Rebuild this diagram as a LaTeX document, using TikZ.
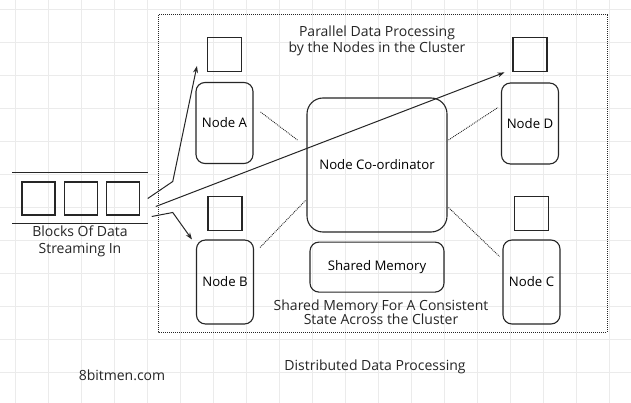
\documentclass[tikz,border=0pt]{standalone}
\usepackage{fontspec}
\setmainfont{Open Sans}
\usetikzlibrary{positioning,calc,arrows.meta}
\definecolor{pen}{HTML}{262626}
\definecolor{gridline}{HTML}{EBEBEB}

\tikzset{
    worker/.style={draw=pen, line width=1.1pt, rounded corners=9pt, minimum width=57pt, minimum height=81pt, font=\fontsize{13.2}{15}\selectfont},
    chunk/.style={draw=pen, line width=1.1pt, minimum width=34pt, minimum height=34pt, inner sep=0pt},
    label/.style={align=center, text=pen, font=\fontsize{14}{16}\selectfont},
    link/.style={densely dotted, pen, line width=0.9pt},
    flow/.style={pen, line width=1pt, -{Stealth[length=7pt,width=5pt]}}
}

\begin{document}
\begin{tikzpicture}[x=1pt, y=-1pt]

    \useasboundingbox (0,0) rectangle (631,403);
    \fill[white] (0,0) rectangle (631,403);

    %grid
    \foreach \x in {15,48,...,631}
        \draw [gridline] (\x,0) -- (\x,403);
    \foreach \y in {9,42,...,403}
        \draw [gridline] (0,\y) -- (631,\y);

    %cluster frame
    \draw [densely dotted, pen, line width=1pt] (158,15) rectangle (607,332);

    %nodes
    \node[worker] (nodeA) at (224.5,123) {Node A};
    \node[worker] (nodeD) at (530,123.5) {Node D};
    \node[worker, minimum height=84pt] (nodeB) at (225,282) {Node B};
    \node[worker, minimum height=84pt] (nodeC) at (531.5,282) {Node C};

    \node[chunk, above=10pt of nodeA] (sqA) {};
    \node[chunk, above=10pt of nodeD] (sqD) {};
    \node[chunk, above=8pt of nodeB] (sqB) {};
    \node[chunk, above=8pt of nodeC] (sqC) {};

    \node[worker, rounded corners=16pt, minimum width=140pt, minimum height=134pt] (coord) at (377,165) {Node Co-ordinator};
    \node[worker, rounded corners=9pt, minimum width=134pt, minimum height=50pt, below=9pt of coord] (shmem) {Shared Memory};

    %blocks streaming in
    \node[chunk, minimum width=33pt, minimum height=33pt] (blk1) at (38.5,198.5) {};
    \node[chunk, minimum width=33pt, minimum height=33pt, right=8pt of blk1] (blk2) {};
    \node[chunk, minimum width=33pt, minimum height=33pt, right=8pt of blk2] (blk3) {};
    \draw [pen, line width=1.1pt] ($(blk1.north west)+(-9,-9)$) -- ($(blk3.north east)+(8,-9)$);
    \draw [pen, line width=1.1pt] ($(blk1.south west)+(-9,8)$) -- ($(blk3.south east)+(8,8)$);

    %labels
    \node[label] (title) at (377,41) {Parallel Data Processing\\by the Nodes in the Cluster};
    \node[label, font=\fontsize{14}{14.5}\selectfont] (note) at (381,312) {Shared Memory For A Consistent\\State Across the Cluster};
    \node[label, font=\fontsize{14}{17}\selectfont] (stream) at (80,241) {Blocks Of Data\\Streaming In};
    \node[label] (site) at (122,375) {8bitmen.com};
    \node[label] (caption) at (375,367) {Distributed Data Processing};

    %dotted links
    \draw [link] ($(nodeA.east)+(7,-11)$) -- ($(coord.west)+(-9,-25)$);
    \draw [link] ($(coord.east)+(1,-25)$) -- ($(nodeD.west)+(-3,-16)$);
    \draw [link] ($(nodeB.north east)+(6,8)$) -- ($(coord.south west)+(-1,-32)$);
    \draw [link] ($(coord.south east)+(1,-25)$) -- ($(nodeC.north west)+(-3,17)$);

    %arrows
    \coordinate (outA) at ($(blk3.east)+(8,0)$);
    \coordinate (outD) at ($(blk3.east)+(16,8)$);
    \coordinate (outB) at ($(blk3.east)+(12,18)$);
    \draw [flow] (outA) -- ++(25,-17) -- ($(sqA.south west)+(-10,-6)$);
    \draw [flow] (outD) -- ($(sqD.south west)+(-8,0)$);
    \draw [flow] (outB) -- ++(21,-4) -- ($(nodeB.north west)+(-4,0)$);

\end{tikzpicture}
\end{document}
